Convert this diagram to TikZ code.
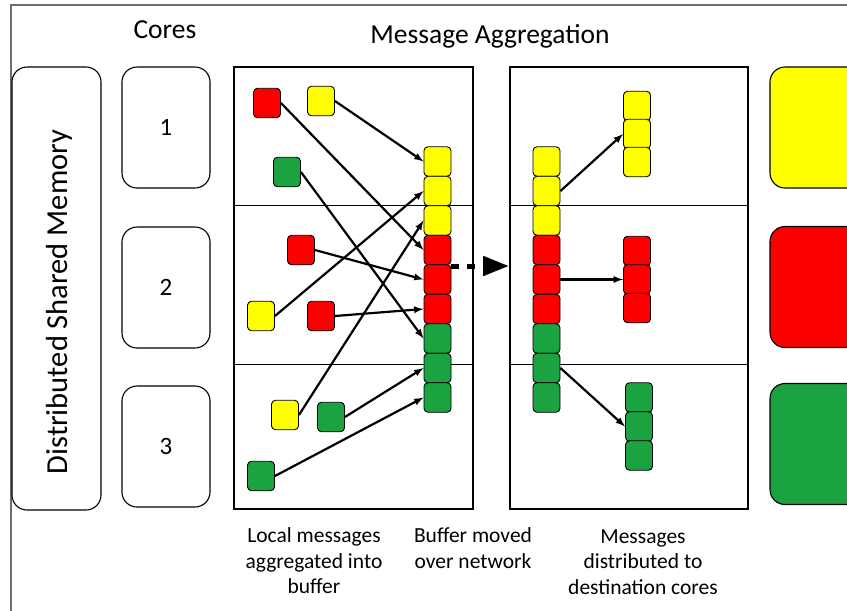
\documentclass[tikz,border=0pt]{standalone}
\usepackage{fontspec}
\setmainfont{Carlito}
\usepackage{tikz}
\usetikzlibrary{positioning,arrows,arrows.meta}
\definecolor{msgyellow}{RGB}{255,255,0}
\definecolor{msgred}{RGB}{250,0,0}
\definecolor{msggreen}{RGB}{26,163,64}
\definecolor{framegray}{RGB}{110,110,110}

\begin{document}
\begin{tikzpicture}[x=1pt,y=-1pt]
\tikzstyle{msg}=[rectangle, rounded corners=4pt, minimum width=27pt, minimum height=29.5pt, inner sep=0pt, draw=black, line width=0.9pt]
\tikzstyle{core}=[rectangle, rounded corners=15pt, minimum width=88pt, minimum height=121pt, draw=black, line width=1.1pt, font=\fontsize{25}{29}\selectfont]
\tikzstyle{panel}=[draw=black, line width=1.4pt]
\tikzstyle{divider}=[draw=black, line width=0.9pt]
\tikzstyle{connect}=[-latex, line width=2.2pt]
\tikzstyle{caption}=[align=center, font=\fontsize{21.5}{25.5}\selectfont]
\tikzstyle{heading}=[font=\fontsize{27.5}{31}\selectfont]
\useasboundingbox (0,0) rectangle (847,611);
\clip (0,0) rectangle (847,611);
\draw[framegray, line width=1.5pt] (11,620) -- (11,5) -- (860,5);
	% memory, cores and the two halves of the aggregation step
	\node[core, minimum width=89pt, minimum height=443pt] (dsm) at (56.5,288.5) {};
	\node[rotate=90, font=\fontsize{30.5}{34}\selectfont] (dsmtext) at (59,302) {Distributed Shared Memory};
	\node[core] (core1) at (166,127.5) {1};
	\node[core] (core2) at (166,287.5) {2};
	\node[core] (core3) at (166,446.5) {3};
	\node[heading] (coreshead) at (165,30) {Cores};
	\node[heading] (agghead) at (490,36) {Message Aggregation};
	\draw[panel] (234,67) rectangle (473,509);
	\draw[panel] (510,67) rectangle (748,509);
	\draw[divider] (234,205) -- (473,205);
	\draw[divider] (234,364) -- (473,364);
	\draw[divider] (510,205) -- (748,205);
	\draw[divider] (510,364) -- (748,364);
	\node[core, fill=msgyellow, minimum width=100pt] (ybig) at (820,127.5) {};
	\node[core, fill=msgred, minimum width=100pt] (rbig) at (820,287) {};
	\node[core, fill=msggreen, minimum width=100pt] (gbig) at (820,444) {};

	% local messages
	\node[msg, fill=msgred] (r1) at (267,103) {};
	\node[msg, fill=msgyellow] (y1) at (321,101) {};
	\node[msg, fill=msggreen] (g1) at (287,172) {};
	\node[msg, fill=msgred] (r2) at (301,250) {};
	\node[msg, fill=msgyellow] (y2) at (261,316) {};
	\node[msg, fill=msgred] (r3) at (321,316) {};
	\node[msg, fill=msgyellow] (y3) at (285,415) {};
	\node[msg, fill=msggreen] (g2) at (331,417) {};
	\node[msg, fill=msggreen] (g3) at (261,476) {};

	% send buffer
	\node[msg, fill=msgyellow] (lb1) at (437.5,161.5) {};
	\node[msg, fill=msgyellow] (lb2) at (437.5,191) {};
	\node[msg, fill=msgyellow] (lb3) at (437.5,220.5) {};
	\node[msg, fill=msgred] (lb4) at (437.5,250) {};
	\node[msg, fill=msgred] (lb5) at (437.5,279.5) {};
	\node[msg, fill=msgred] (lb6) at (437.5,309) {};
	\node[msg, fill=msggreen] (lb7) at (437.5,338.5) {};
	\node[msg, fill=msggreen] (lb8) at (437.5,368) {};
	\node[msg, fill=msggreen] (lb9) at (437.5,397.5) {};

	% received buffer
	\node[msg, fill=msgyellow] (rb1) at (546.5,161.5) {};
	\node[msg, fill=msgyellow] (rb2) at (546.5,191) {};
	\node[msg, fill=msgyellow] (rb3) at (546.5,220.5) {};
	\node[msg, fill=msgred] (rb4) at (546.5,250) {};
	\node[msg, fill=msgred] (rb5) at (546.5,279.5) {};
	\node[msg, fill=msgred] (rb6) at (546.5,309) {};
	\node[msg, fill=msggreen] (rb7) at (546.5,338.5) {};
	\node[msg, fill=msggreen] (rb8) at (546.5,368) {};
	\node[msg, fill=msggreen] (rb9) at (546.5,397.5) {};

	% per core destinations
	\node[msg, fill=msgyellow] (yd1) at (637,106) {};
	\node[msg, fill=msgyellow] (yd2) at (637,134) {};
	\node[msg, fill=msgyellow] (yd3) at (637,162) {};
	\node[msg, fill=msgred] (rd1) at (637,251) {};
	\node[msg, fill=msgred] (rd2) at (637,279.5) {};
	\node[msg, fill=msgred] (rd3) at (637,308) {};
	\node[msg, fill=msggreen] (gd1) at (639,397.5) {};
	\node[msg, fill=msggreen] (gd2) at (639,426.5) {};
	\node[msg, fill=msggreen] (gd3) at (639,455.5) {};

	\coordinate (hopstart) at (451,266);
	\coordinate (hopend) at (509,266);
	\draw[line width=5pt, dash pattern=on 8pt off 8pt, -{Triangle[length=26pt,width=19pt]}] (hopstart) -- (hopend);

	\path
		(y1.east) edge [connect] (lb1.west)
		(y2.east) edge [connect] (lb2.west)
		(y3.east) edge [connect] (lb3.west)
		(r1.east) edge [connect] (lb4.west)
		(r2.east) edge [connect] (lb5.west)
		(r3.east) edge [connect] (lb6.west)
		(g1.east) edge [connect] (lb7.west)
		(g2.east) edge [connect] (lb8.west)
		(g3.east) edge [connect] (lb9.west)
		(rb2.east) edge [connect] (yd2.west)
		(rb5.east) edge [connect] (rd2.west)
		(rb8.east) edge [connect] (gd2.west);

	\node[caption] (cap1) at (314,561) {Local messages\\aggregated into\\buffer};
	\node[caption] (cap2) at (473,548) {Buffer moved\\over network};
	\node[caption] (cap3) at (643,562) {Messages\\distributed to\\destination cores};
\end{tikzpicture}
\end{document}
